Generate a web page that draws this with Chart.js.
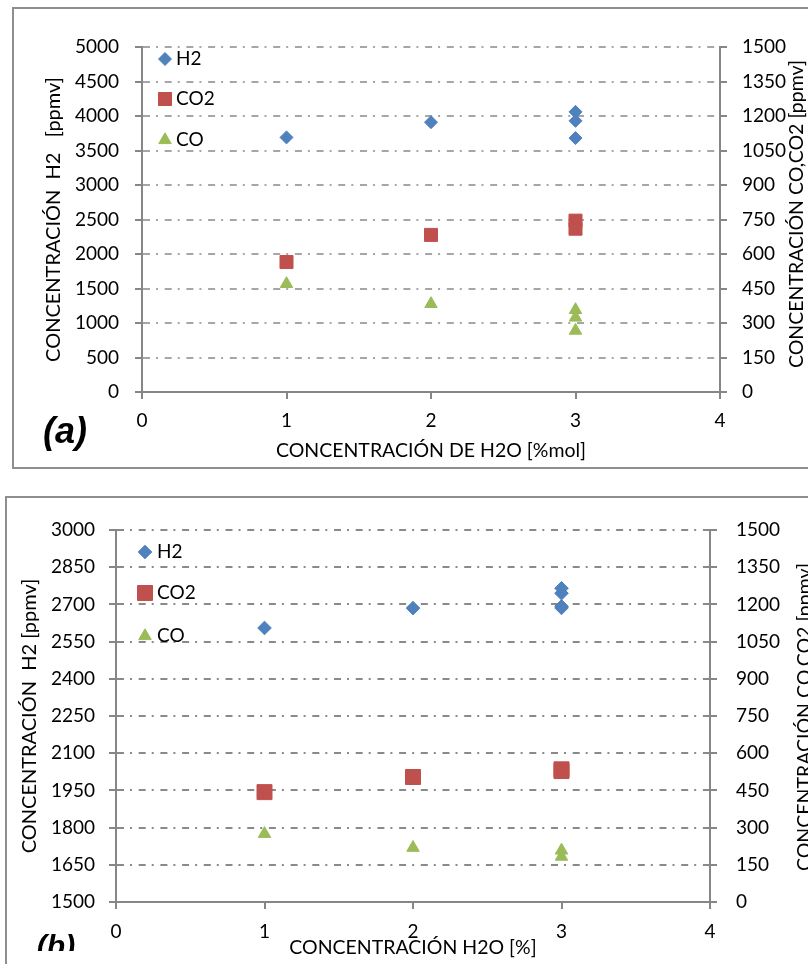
<!DOCTYPE html>
<html>
<head>
<meta charset="utf-8">
<script src="https://cdn.jsdelivr.net/npm/chart.js@4.4.1/dist/chart.umd.min.js"></script>
<style>
  html, body { margin: 0; padding: 0; background: #fff; overflow: hidden; }
  body { width: 808px; height: 964px; position: relative; }
  .frame { position: absolute; border: 2px solid #8e8e8e; box-sizing: border-box; }
  #frameA { left: 12px; top: 7px; width: 820px; height: 462px; }
  #frameB { left: 5px; top: 496px; width: 830px; height: 520px; }
  canvas { position: absolute; left: 0; }
  #chartA { top: 0; }
  #chartB { top: 480px; }
</style>
</head>
<body>
<div class="frame" id="frameA"></div>
<div class="frame" id="frameB"></div>
<canvas id="chartA" width="808" height="480"></canvas>
<canvas id="chartB" width="808" height="484"></canvas>
<script>
// --- panel (a) values
const aH2X  = [1, 2, 3, 3, 3];
const aH2Y  = [3690, 3910, 4060, 3930, 3680];
const aCO2X = [1, 2, 3, 3];
const aCO2Y = [565, 683, 745, 710];
const aCOX  = [1, 2, 3, 3, 3];
const aCOY  = [470, 383, 357, 324, 267];

// --- panel (b) values
const bH2X  = [1, 2, 3, 3, 3, 3];
const bH2Y  = [2605, 2685, 2765, 2745, 2692, 2686];
const bCO2X = [1, 2, 3, 3];
const bCO2Y = [443, 504, 535, 528];
const bCOX  = [1, 2, 3, 3];
const bCOY  = [275, 219, 208, 183];

const seriesNames = ['H2', 'CO2', 'CO'];
// axis ranges: [min, max, step]
const xRange      = [0, 4, 1];
const aLeftRange  = [0, 5000, 500];
const aRightRange = [0, 1500, 150];
const bLeftRange  = [1500, 3000, 150];
const bRightRange = [0, 1500, 150];

const colors = ['#4F81BD', '#C0504D', '#9BBB59'];
const styles = ['rectRot', 'rect', 'triangle'];
const axisCol = '#868686';
const FAMILY = 'Lato, "DejaVu Sans", sans-serif';
const font = { family: FAMILY, size: 19 };
const titleFont = { family: FAMILY, size: 19.5 };

const pts = (xs, ys) => xs.map((x, i) => ({ x: x, y: ys[i] }));

// legend, right-hand title (reads upward) and panel letter
const extras = {
  id: 'extras',
  afterDraw(chart, args, o) {
    const ctx = chart.ctx;
    ctx.save();
    chart.data.datasets.forEach((ds, i) => {
      const y = o.legendY[i];
      ctx.fillStyle = ds.backgroundColor;
      ctx.strokeStyle = ds.borderColor;
      Chart.helpers.drawPoint(ctx, { pointStyle: ds.pointStyle, radius: ds.pointRadius, rotation: 0, borderWidth: 1 }, o.legendX, y);
      ctx.fillStyle = '#000';
      ctx.font = font.size + 'px ' + FAMILY;
      ctx.textAlign = 'left';
      ctx.textBaseline = 'middle';
      ctx.fillText(ds.label, o.legendX + o.textGap, y);
    });
    ctx.save();
    ctx.translate(o.y2TitleX, o.y2TitleY);
    ctx.rotate(-Math.PI / 2);
    ctx.font = '19.5px ' + FAMILY;
    ctx.textAlign = 'center';
    ctx.textBaseline = 'middle';
    ctx.fillText(o.y2Title, 0, 0);
    ctx.restore();
    ctx.beginPath();
    ctx.rect(0, 0, chart.width, o.letterClip);
    ctx.clip();
    ctx.font = 'bold italic ' + o.letterSize + 'px "Liberation Sans", Arial, sans-serif';
    ctx.textAlign = 'center';
    ctx.fillText(o.letter, o.letterX, o.letterY);
    ctx.restore();
  }
};

function buildChart(id, c) {
  const canvas = document.getElementById(id);
  const W = canvas.width, H = canvas.height;
  const ds = [
    { xs: c.h2x, ys: c.h2y, axis: 'y' },
    { xs: c.co2x, ys: c.co2y, axis: 'y2' },
    { xs: c.cox, ys: c.coy, axis: 'y2' }
  ].map((s, i) => ({
    label: seriesNames[i],
    data: pts(s.xs, s.ys),
    yAxisID: s.axis,
    pointStyle: styles[i],
    pointRadius: c.radii[i],
    pointBorderWidth: 1,
    backgroundColor: colors[i],
    borderColor: colors[i]
  }));

  return new Chart(canvas, {
    type: 'scatter',
    data: { datasets: ds },
    options: {
      responsive: false,
      devicePixelRatio: 1,
      animation: false,
      layout: { padding: { top: c.area.top, left: 0, right: 0, bottom: 0 } },
      plugins: {
        legend: { display: false },
        tooltip: { enabled: false },
        extras: c.extras
      },
      scales: {
        x: {
          type: 'linear', position: 'bottom',
          min: xRange[0], max: xRange[1],
          ticks: { stepSize: xRange[2], padding: c.xTickPad, color: '#000', font: font },
          grid: { drawOnChartArea: false, tickLength: 7, color: axisCol, lineWidth: 2 },
          border: { color: axisCol, width: 2 },
          title: { display: true, text: c.xTitle, color: '#000', font: titleFont, padding: { top: 0, bottom: c.xTitlePad } },
          afterFit: s => { s.height = H - c.area.bottom; }
        },
        y: {
          type: 'linear', position: 'left',
          min: c.left[0], max: c.left[1],
          ticks: { stepSize: c.left[2], padding: c.yTickPad, color: '#000', font: font, callback: v => String(v) },
          grid: { color: c.gridCol, lineWidth: 2, tickLength: 7, tickColor: axisCol, borderDash: [7, 6, 2, 6.7], tickBorderDash: [] },
          border: { color: axisCol, width: 2, dash: [7, 6, 2, 6.7] },
          title: { display: true, text: c.yTitle, color: '#000', font: { family: FAMILY, size: 20 }, padding: { top: c.yTitlePad, bottom: 0 } },
          afterFit: s => { s.width = c.area.left; }
        },
        y2: {
          type: 'linear', position: 'right',
          min: c.right[0], max: c.right[1],
          ticks: { stepSize: c.right[2], padding: c.y2TickPad, color: '#000', font: font, callback: v => String(v) },
          grid: { drawOnChartArea: false, tickLength: 7, color: axisCol, lineWidth: 2 },
          border: { color: axisCol, width: 2 },
          afterFit: s => { s.width = W - c.area.right; }
        }
      }
    },
    plugins: [extras]
  });
}

buildChart('chartA', {
  h2x: aH2X, h2y: aH2Y, co2x: aCO2X, co2y: aCO2Y, cox: aCOX, coy: aCOY,
  left: aLeftRange, right: aRightRange,
  radii: [6.5, 9.2, 7.2],
  area: { left: 142, right: 720, top: 47, bottom: 392 },
  gridCol: '#a6a6a6',
  xTickPad: 10, yTickPad: 16, y2TickPad: 15,
  xTitle: 'CONCENTRACIÓN DE H2O [%mol]', xTitlePad: 18,
  yTitle: 'CONCENTRACIÓN  H2   [ppmv]', yTitlePad: 42,
  extras: {
    legendX: 165, legendY: [59, 99, 140], textGap: 11,
    y2Title: 'CONCENTRACIÓN CO,CO2 [ppmv]', y2TitleX: 797, y2TitleY: 214,
    letter: '(a)', letterX: 65, letterY: 433, letterSize: 36, letterClip: 480
  }
});

buildChart('chartB', {
  h2x: bH2X, h2y: bH2Y, co2x: bCO2X, co2y: bCO2Y, cox: bCOX, coy: bCOY,
  left: bLeftRange, right: bRightRange,
  radii: [6.8, 10.6, 7.2],
  area: { left: 116, right: 710, top: 50, bottom: 422 },
  gridCol: '#8a8a8a',
  xTickPad: 11, yTickPad: 14, y2TickPad: 19,
  xTitle: 'CONCENTRACIÓN H2O [%]', xTitlePad: 5,
  yTitle: 'CONCENTRACIÓN  H2 [ppmv]', yTitlePad: 18,
  extras: {
    legendX: 145, legendY: [72, 113, 156], textGap: 12,
    y2Title: 'CONCENTRACIÓN CO,CO2 [ppmv]', y2TitleX: 805, y2TitleY: 237,
    letter: '(b)', letterX: 56, letterY: 468, letterSize: 30, letterClip: 471
  }
});
</script>
</body>
</html>
